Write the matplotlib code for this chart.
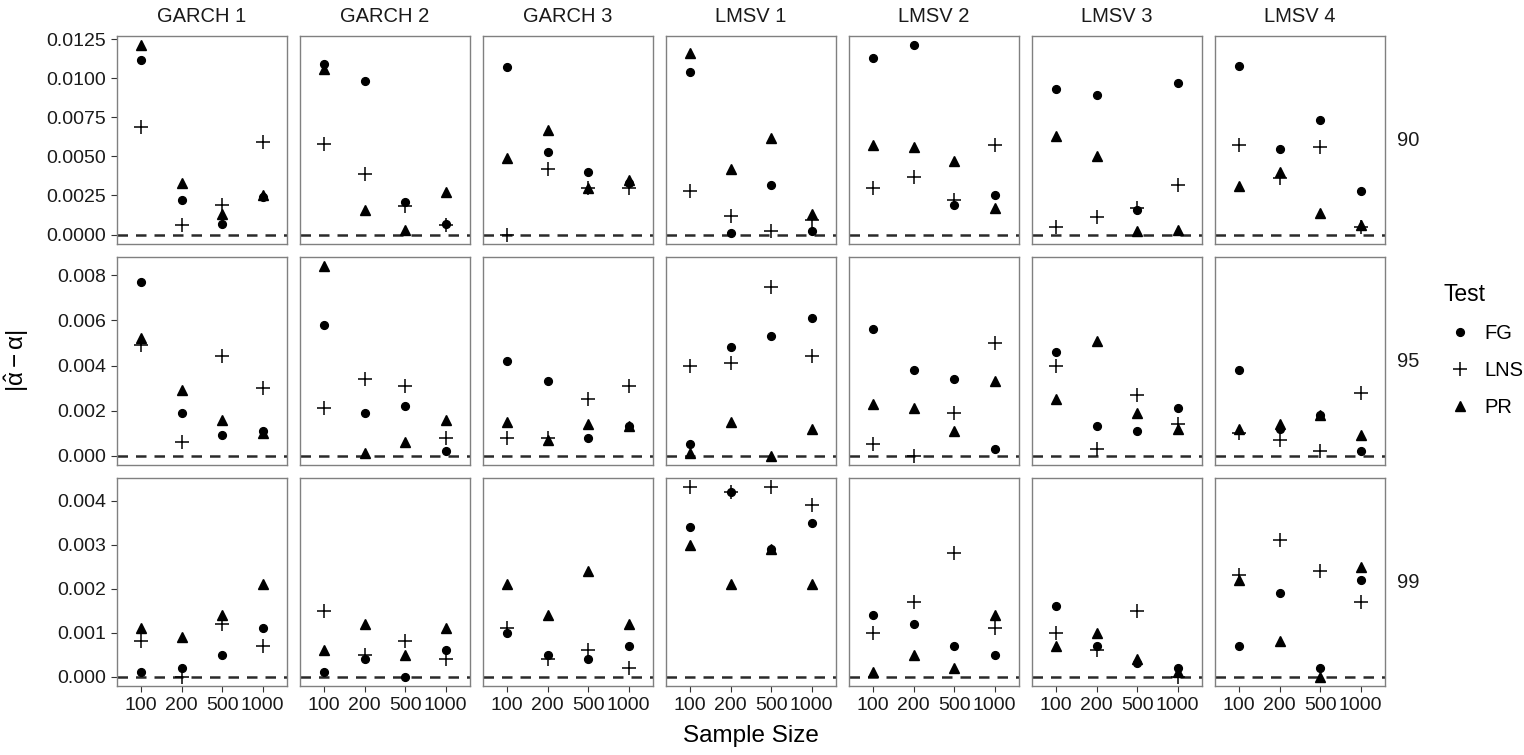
import numpy as np
import matplotlib
matplotlib.use('Agg')
import matplotlib.pyplot as plt
from matplotlib.lines import Line2D

plt.rcParams['font.family'] = ['Liberation Sans', 'DejaVu Sans']
plt.rcParams['mathtext.fontset'] = 'custom'
plt.rcParams['mathtext.rm'] = 'Liberation Sans'
plt.rcParams['mathtext.it'] = 'Liberation Sans'

models = ['GARCH 1', 'GARCH 2', 'GARCH 3', 'LMSV 1', 'LMSV 2', 'LMSV 3', 'LMSV 4']
sizes = ['100', '200', '500', '1000']
levels = ['90', '95', '99']

# |alpha_hat - alpha|, one row of 4 sample sizes per model
fg_90 = [[0.0112, 0.0022, 0.0007, 0.0024],
         [0.0109, 0.0098, 0.0021, 0.0007],
         [0.0107, 0.0053, 0.0040, 0.0033],
         [0.0104, 0.0001, 0.0032, 0.0002],
         [0.0113, 0.0121, 0.0019, 0.0025],
         [0.0093, 0.0089, 0.0016, 0.0097],
         [0.0108, 0.0055, 0.0073, 0.0028]]
lns_90 = [[0.0069, 0.0006, 0.0019, 0.0059],
          [0.0058, 0.0039, 0.0018, 0.0006],
          [0.0000, 0.0042, 0.0030, 0.0030],
          [0.0028, 0.0012, 0.0002, 0.0009],
          [0.0030, 0.0037, 0.0022, 0.0057],
          [0.0005, 0.0011, 0.0017, 0.0032],
          [0.0057, 0.0036, 0.0056, 0.0005]]
pr_90 = [[0.0121, 0.0033, 0.0013, 0.0025],
         [0.0106, 0.0016, 0.0003, 0.0027],
         [0.0049, 0.0067, 0.0030, 0.0035],
         [0.0116, 0.0042, 0.0062, 0.0013],
         [0.0057, 0.0056, 0.0047, 0.0017],
         [0.0063, 0.0050, 0.0002, 0.0003],
         [0.0031, 0.0040, 0.0014, 0.0006]]

fg_95 = [[0.0077, 0.0019, 0.0009, 0.0011],
         [0.0058, 0.0019, 0.0022, 0.0002],
         [0.0042, 0.0033, 0.0008, 0.0013],
         [0.0005, 0.0048, 0.0053, 0.0061],
         [0.0056, 0.0038, 0.0034, 0.0003],
         [0.0046, 0.0013, 0.0011, 0.0021],
         [0.0038, 0.0012, 0.0018, 0.0002]]
lns_95 = [[0.0049, 0.0006, 0.0044, 0.0030],
          [0.0021, 0.0034, 0.0031, 0.0008],
          [0.0008, 0.0008, 0.0025, 0.0031],
          [0.0040, 0.0041, 0.0075, 0.0044],
          [0.0005, 0.0000, 0.0019, 0.0050],
          [0.0040, 0.0003, 0.0027, 0.0014],
          [0.0010, 0.0007, 0.0002, 0.0028]]
pr_95 = [[0.0052, 0.0029, 0.0016, 0.0010],
         [0.0084, 0.0001, 0.0006, 0.0016],
         [0.0015, 0.0007, 0.0014, 0.0013],
         [0.0001, 0.0015, 0.0000, 0.0012],
         [0.0023, 0.0021, 0.0011, 0.0033],
         [0.0025, 0.0051, 0.0019, 0.0012],
         [0.0012, 0.0014, 0.0018, 0.0009]]

fg_99 = [[0.0001, 0.0002, 0.0005, 0.0011],
         [0.0001, 0.0004, 0.0000, 0.0006],
         [0.0010, 0.0005, 0.0004, 0.0007],
         [0.0034, 0.0042, 0.0029, 0.0035],
         [0.0014, 0.0012, 0.0007, 0.0005],
         [0.0016, 0.0007, 0.0003, 0.0002],
         [0.0007, 0.0019, 0.0002, 0.0022]]
lns_99 = [[0.0008, 0.0000, 0.0012, 0.0007],
          [0.0015, 0.0005, 0.0008, 0.0004],
          [0.0011, 0.0004, 0.0006, 0.0002],
          [0.0043, 0.0042, 0.0043, 0.0039],
          [0.0010, 0.0017, 0.0028, 0.0011],
          [0.0010, 0.0006, 0.0015, 0.0000],
          [0.0023, 0.0031, 0.0024, 0.0017]]
pr_99 = [[0.0011, 0.0009, 0.0014, 0.0021],
         [0.0006, 0.0012, 0.0005, 0.0011],
         [0.0021, 0.0014, 0.0024, 0.0012],
         [0.0030, 0.0021, 0.0029, 0.0021],
         [0.0001, 0.0005, 0.0002, 0.0014],
         [0.0007, 0.0010, 0.0004, 0.0001],
         [0.0022, 0.0008, 0.0000, 0.0025]]

ticks_90 = [0.0, 0.0025, 0.0050, 0.0075, 0.0100, 0.0125]
ticks_95 = [0.000, 0.002, 0.004, 0.006, 0.008]
ticks_99 = [0.000, 0.001, 0.002, 0.003, 0.004]

rows = [(fg_90, lns_90, pr_90, ticks_90, '%.4f'),
        (fg_95, lns_95, pr_95, ticks_95, '%.3f'),
        (fg_99, lns_99, pr_99, ticks_99, '%.3f')]

W, H = 1524, 755
fig = plt.figure(figsize=(W / 100, H / 100), dpi=100)

left0, col_step, pw = 117, 183, 170
top0, row_step, ph = 36, 221, 208
x = np.arange(len(sizes))

for r, (fg, lns, pr, ticks, fmt) in enumerate(rows):
    allv = np.concatenate([np.ravel(fg), np.ravel(lns), np.ravel(pr)])
    lo, hi = allv.min(), allv.max()
    pad = 0.05 * (hi - lo)
    top = top0 + r * row_step
    for c in range(len(models)):
        left = left0 + c * col_step
        ax = fig.add_axes([left / W, 1 - (top + ph) / H, pw / W, ph / H])
        ax.axhline(0, color='#2a2a2a', lw=1.8, ls=(0, (4.2, 3.2)), zorder=1)
        ax.plot(x, fg[c], 'o', color='black', ms=5.6, zorder=3)
        ax.plot(x, lns[c], '+', color='black', ms=9.5, mew=1.1, zorder=3)
        ax.plot(x, pr[c], '^', color='black', ms=6.8, zorder=3)
        ax.set_xlim(-0.6, len(sizes) - 0.4)
        ax.set_ylim(lo - pad, hi + pad)
        for s in ax.spines.values():
            s.set_color('#808080')
            s.set_linewidth(1.0)
        ax.tick_params(colors='#333333', length=4.6, width=0.8, labelsize=14,
                       labelcolor='#1a1a1a', pad=3)
        ax.set_xticks(x)
        ax.set_yticks(ticks)
        if r == len(rows) - 1:
            ax.set_xticklabels(sizes)
        else:
            ax.tick_params(axis='x', length=0, labelbottom=False)
        if c == 0:
            ax.set_yticklabels([fmt % t for t in ticks])
        else:
            ax.tick_params(axis='y', length=0, labelleft=False)
        if r == 0:
            fig.text((left + pw / 2) / W, 1 - 17 / H, models[c], ha='center',
                     va='center', fontsize=14.5, color='#1a1a1a')
    fig.text(1408 / W, 1 - (top + ph / 2) / H, levels[r], ha='center',
             va='center', fontsize=14.5, color='#1a1a1a')

fig.text(751 / W, 1 - 736 / H, 'Sample Size', ha='center', va='center', fontsize=17.5)
fig.text(17 / W, 1 - 361 / H, r'$|\hat{\alpha} - \alpha|$', rotation=90,
         ha='center', va='center', fontsize=17.5)

handles = [Line2D([], [], marker='o', ls='none', color='black', ms=5.6),
           Line2D([], [], marker='+', ls='none', color='black', ms=9.5, mew=1.1),
           Line2D([], [], marker='^', ls='none', color='black', ms=6.8)]
fig.legend(handles, ['FG', 'LNS', 'PR'], title='Test', loc='upper left',
           bbox_to_anchor=(1443 / W, 1 - 283 / H), frameon=False, fontsize=14.5,
           title_fontsize=16.5, handlelength=1.7, handletextpad=0.35,
           labelspacing=0.9, borderpad=0, borderaxespad=0, alignment='left')

fig.savefig('out.png', dpi=100)
